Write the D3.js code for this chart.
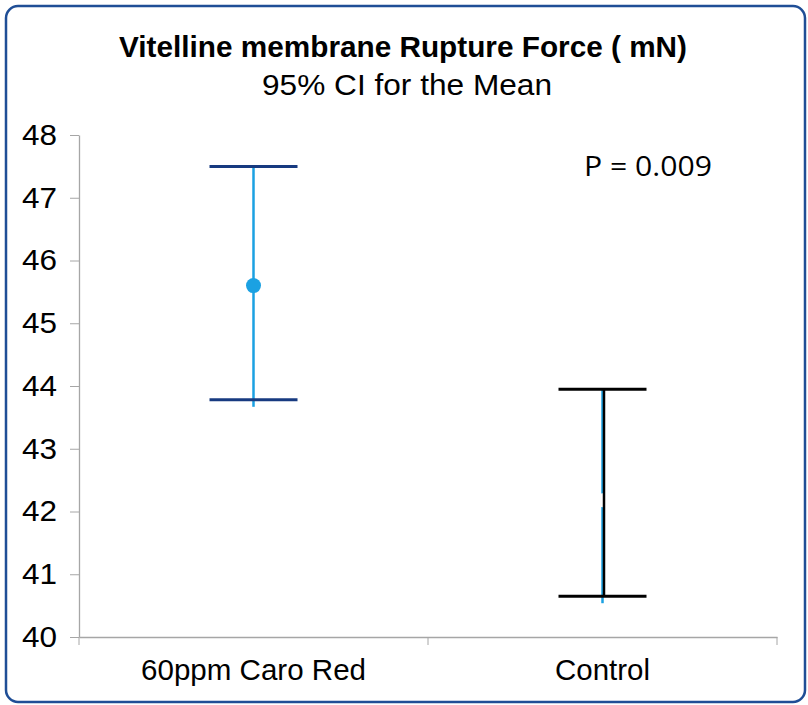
<!DOCTYPE html>
<html>
<head>
<meta charset="utf-8">
<script src="https://cdn.jsdelivr.net/npm/d3@7"></script>
<style>
  html, body { margin: 0; padding: 0; background: #fff; }
  svg { display: block; }
</style>
</head>
<body>
<div id="chart"></div>
<script>
(function () {
  "use strict";

  // Data
  const groups = ["60ppm Caro Red", "Control"];
  const means = [45.6, 42.18];
  const lowers = [43.78, 40.65];
  const uppers = [47.5, 43.95];
  const yTicks = [40, 41, 42, 43, 44, 45, 46, 47, 48];

  const W = 808, H = 705;
  const margin = { left: 79, right: 31, top: 135, bottom: 68 };
  const FONT = "Liberation Sans, Arial, sans-serif";

  const svg = d3.select("#chart").append("svg")
    .attr("width", W).attr("height", H);

  // Frame
  svg.append("rect")
    .attr("x", 6).attr("y", 6)
    .attr("width", W - 9).attr("height", H - 9)
    .attr("rx", 12)
    .attr("fill", "#fff")
    .attr("stroke", "#1f4e96")
    .attr("stroke-width", 2.5);

  const x = d3.scaleBand()
    .domain(groups)
    .range([margin.left, W - margin.right]);

  const y = d3.scaleLinear()
    .domain([40, 48])
    .range([H - margin.bottom, margin.top]);

  // Axes
  const yAxis = svg.append("g")
    .attr("transform", `translate(${margin.left},0)`)
    .call(d3.axisLeft(y).tickValues(yTicks).tickSize(9).tickSizeOuter(0).tickPadding(13));

  const xAxis = svg.append("g")
    .attr("transform", `translate(0,${H - margin.bottom})`)
    .call(d3.axisBottom(x).tickSize(0).tickPadding(22));

  // band boundary ticks on x axis
  const bounds = [x.range()[0], x(groups[1]), x.range()[1]];
  xAxis.selectAll("line.bound")
    .data(bounds).enter().append("line")
    .attr("class", "bound")
    .attr("x1", (d) => d).attr("x2", (d) => d)
    .attr("y1", 0).attr("y2", 8)
    .attr("stroke", "#a6a6a6");

  [yAxis, xAxis].forEach((g) => {
    g.select(".domain").attr("stroke", "#a6a6a6").attr("stroke-width", 1.3);
    g.selectAll(".tick line").attr("stroke", "#a6a6a6");
    g.selectAll("text")
      .attr("fill", "#000")
      .attr("font-family", FONT)
      .attr("font-size", "29px");
  });
  yAxis.selectAll("text")
    .attr("textLength", 35).attr("lengthAdjust", "spacingAndGlyphs");
  xAxis.selectAll("text")
    .attr("dy", "0.71em")
    .attr("textLength", (d) => (d === "Control" ? 95 : 225))
    .attr("lengthAdjust", "spacingAndGlyphs");

  // Error bars
  const capHalf = 44;
  const capCol = ["#173a80", "#000"];

  groups.forEach((g, i) => {
    const cx = x(g) + x.bandwidth() / 2;
    const bar = svg.append("g");

    // light blue stem, running slightly past the lower cap
    bar.append("line")
      .attr("x1", cx).attr("x2", cx)
      .attr("y1", y(uppers[i])).attr("y2", y(lowers[i]) + 7)
      .attr("stroke", "#1ba1e2").attr("stroke-width", 2.5);

    if (i === 0) {
      bar.append("circle")
        .attr("cx", cx).attr("cy", y(means[i]))
        .attr("r", 7.5)
        .attr("fill", "#1ba1e2");
    } else {
      bar.append("circle")
        .attr("cx", cx).attr("cy", y(means[i]))
        .attr("r", 7)
        .attr("fill", "#fff");
      // black stem for the control series
      bar.append("line")
        .attr("x1", cx + 1.5).attr("x2", cx + 1.5)
        .attr("y1", y(uppers[i])).attr("y2", y(lowers[i]))
        .attr("stroke", "#000").attr("stroke-width", 2.5);
    }

    [uppers[i], lowers[i]].forEach((v) => {
      bar.append("line")
        .attr("x1", cx - capHalf).attr("x2", cx + capHalf)
        .attr("y1", y(v)).attr("y2", y(v))
        .attr("stroke", capCol[i]).attr("stroke-width", 3);
    });
  });

  // Titles
  svg.append("text")
    .attr("x", 403).attr("y", 57)
    .attr("text-anchor", "middle")
    .attr("font-family", FONT)
    .attr("font-weight", "bold")
    .attr("font-size", "30px")
    .attr("textLength", 568).attr("lengthAdjust", "spacingAndGlyphs")
    .text("Vitelline membrane Rupture Force ( mN)");

  svg.append("text")
    .attr("x", 407).attr("y", 95)
    .attr("text-anchor", "middle")
    .attr("font-family", FONT)
    .attr("font-size", "29px")
    .attr("textLength", 290).attr("lengthAdjust", "spacingAndGlyphs")
    .text("95% CI for the Mean");

  // P value annotation
  svg.append("text")
    .attr("x", 584).attr("y", 176)
    .attr("font-family", "Open Sans, Noto Sans, sans-serif")
    .attr("font-size", "27px")
    .attr("fill", "#000")
    .attr("textLength", 128).attr("lengthAdjust", "spacingAndGlyphs")
    .text("P = 0.009");
})();
</script>
</body>
</html>
